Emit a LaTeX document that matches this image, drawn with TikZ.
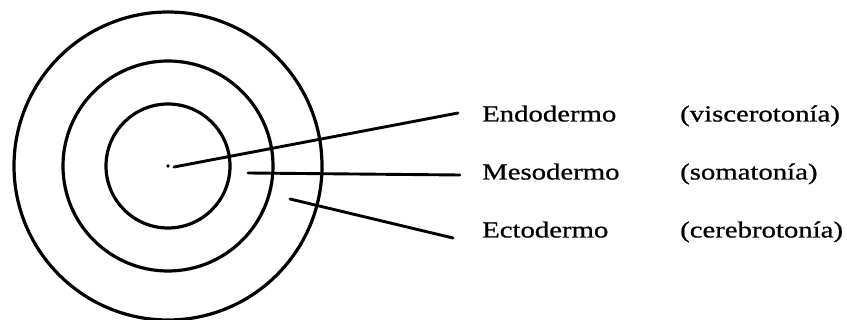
\documentclass[tikz,border=0pt]{standalone}
\usepackage{fontspec}
\setmainfont{Liberation Serif}[FakeStretch=1.25, FakeBold=0.8]
\usetikzlibrary{positioning}

\begin{document}
\begin{tikzpicture}[x=1pt, y=-1pt, node distance=58pt,
        every node/.style={font=\fontsize{23}{28}\selectfont, inner sep=0pt, anchor=west, text height=16pt, text depth=5pt},
        ring/.style={line width=3.2pt},
        lead/.style={line width=2.9pt, line cap=round}]
        \useasboundingbox (0,0) rectangle (847,320);
        % the three germ layers
        \coordinate (c) at (168,166);
        \draw[ring] (c) circle (62pt);
        \draw[ring] (c) circle (105pt);
        \draw[ring] (c) circle (154pt);
        \fill (c) circle (1.8pt);
        % labels
        \node (endo) at (482,116) {Endodermo};
        \node[below=of endo.west, anchor=west] (meso) {Mesodermo};
        \node[below=of meso.west, anchor=west] (ecto) {Ectodermo};
        \node[right=198pt of endo.west, anchor=west] (visc) {(viscerotonía)};
        \node[right=198pt of meso.west, anchor=west] (soma) {(somatonía)};
        \node[right=198pt of ecto.west, anchor=west] (cere) {(cerebrotonía)};
        % leader lines
        \coordinate (endo-in) at (174,167);
        \coordinate (meso-in) at (248,173);
        \coordinate (ecto-in) at (290,199);
        \draw[lead] (endo-in) -- ([shift={(-24pt,3pt)}]endo.west);
        \draw[lead] (meso-in) -- ([shift={(-22pt,-1pt)}]meso.west);
        \draw[lead] (ecto-in) -- ([shift={(-29pt,-6pt)}]ecto.west);
    \end{tikzpicture}
\end{document}
